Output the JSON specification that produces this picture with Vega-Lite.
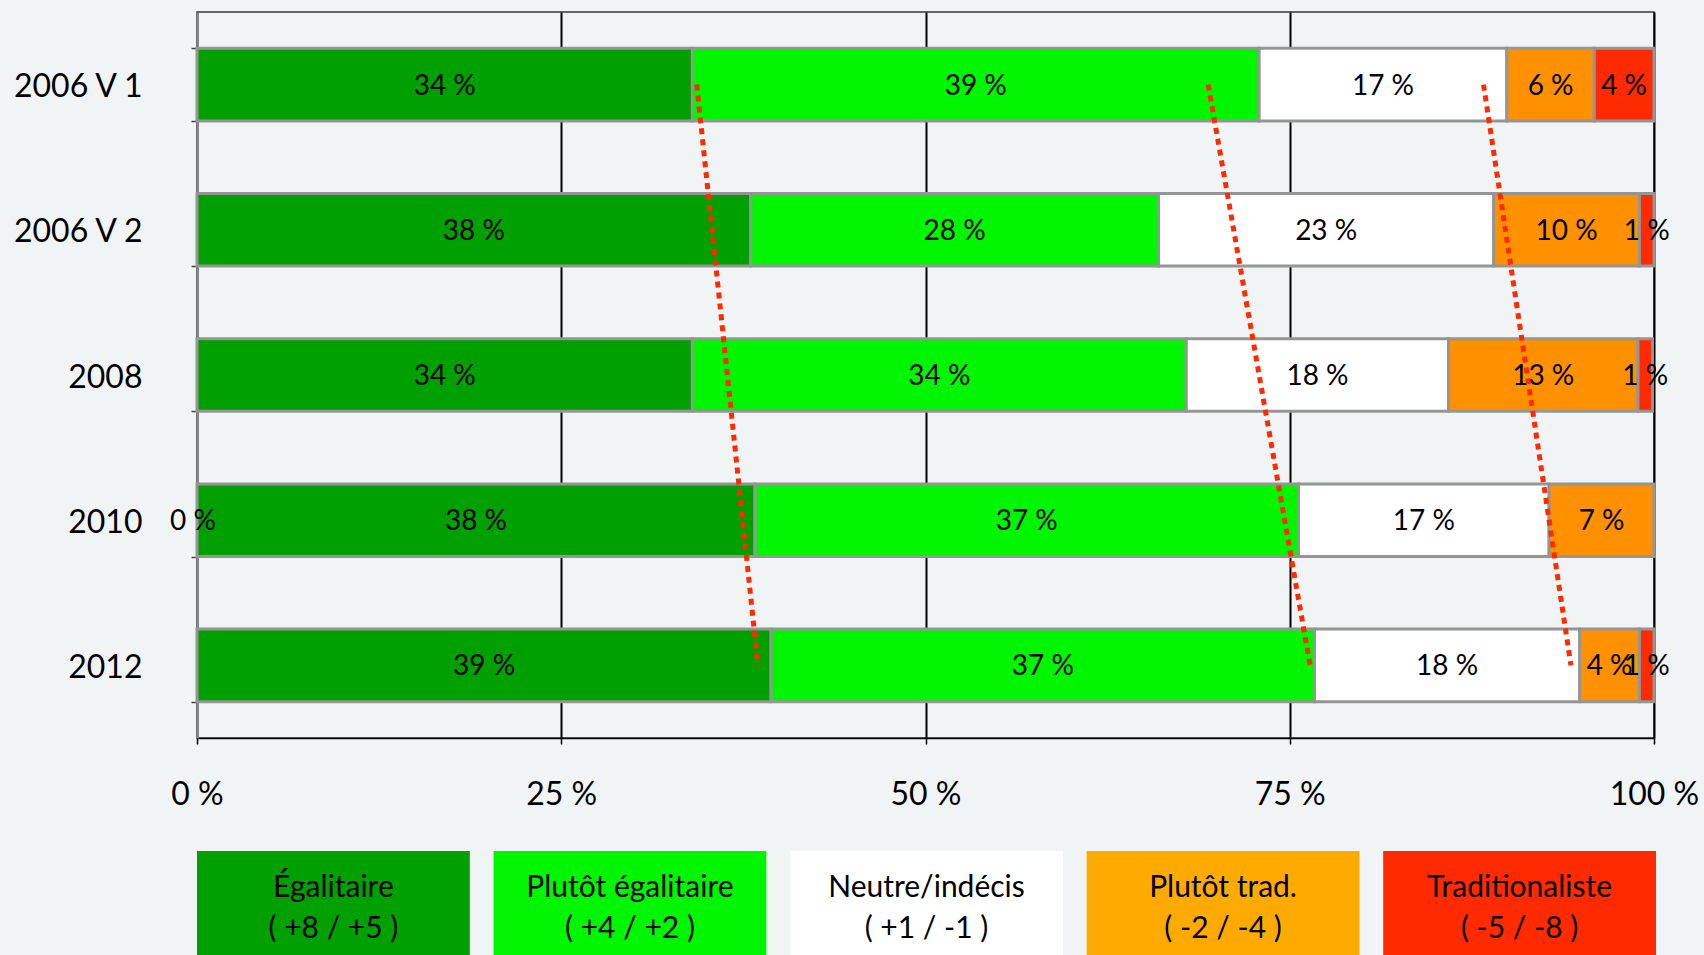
{
  "$schema": "https://vega.github.io/schema/vega-lite/v6.json",
  "background": "#F1F4F5",
  "padding": {"top": -5, "left": 10, "right": 5, "bottom": 0},
  "bounds": "flush",
  "spacing": 113,
  "config": {"font": "Lato", "view": {"stroke": null}},
  "resolve": {"scale": {"color": "independent", "x": "independent", "y": "independent"}},
  "datasets": {
    "parts": [
      {"annee": "2006 V 1", "cat": "Égalitaire", "k": 1, "value": 34.0},
      {"annee": "2006 V 1", "cat": "Plutôt égalitaire", "k": 2, "value": 38.9},
      {"annee": "2006 V 1", "cat": "Neutre/indécis", "k": 3, "value": 17.0},
      {"annee": "2006 V 1", "cat": "Plutôt trad.", "k": 4, "value": 6.0},
      {"annee": "2006 V 1", "cat": "Traditionaliste", "k": 5, "value": 4.1},
      {"annee": "2006 V 2", "cat": "Égalitaire", "k": 1, "value": 38.0},
      {"annee": "2006 V 2", "cat": "Plutôt égalitaire", "k": 2, "value": 28.0},
      {"annee": "2006 V 2", "cat": "Neutre/indécis", "k": 3, "value": 23.0},
      {"annee": "2006 V 2", "cat": "Plutôt trad.", "k": 4, "value": 10.0},
      {"annee": "2006 V 2", "cat": "Traditionaliste", "k": 5, "value": 1.0},
      {"annee": "2008", "cat": "Égalitaire", "k": 1, "value": 34.0},
      {"annee": "2008", "cat": "Plutôt égalitaire", "k": 2, "value": 33.9},
      {"annee": "2008", "cat": "Neutre/indécis", "k": 3, "value": 18.0},
      {"annee": "2008", "cat": "Plutôt trad.", "k": 4, "value": 13.0},
      {"annee": "2008", "cat": "Traditionaliste", "k": 5, "value": 1.0},
      {"annee": "2010", "cat": "Égalitaire", "k": 1, "value": 38.3},
      {"annee": "2010", "cat": "Plutôt égalitaire", "k": 2, "value": 37.3},
      {"annee": "2010", "cat": "Neutre/indécis", "k": 3, "value": 17.2},
      {"annee": "2010", "cat": "Plutôt trad.", "k": 4, "value": 7.2},
      {"annee": "2012", "cat": "Égalitaire", "k": 1, "value": 39.4},
      {"annee": "2012", "cat": "Plutôt égalitaire", "k": 2, "value": 37.3},
      {"annee": "2012", "cat": "Neutre/indécis", "k": 3, "value": 18.2},
      {"annee": "2012", "cat": "Plutôt trad.", "k": 4, "value": 4.1},
      {"annee": "2012", "cat": "Traditionaliste", "k": 5, "value": 1.0}
    ],
    "zero": [
      {"annee": "2010", "pos": 0, "label": "0 %"}
    ],
    "tendances": [
      {"ligne": 1, "annee": "2006 V 1", "pos": 34.3},
      {"ligne": 1, "annee": "2012", "pos": 38.5},
      {"ligne": 2, "annee": "2006 V 1", "pos": 69.4},
      {"ligne": 2, "annee": "2012", "pos": 76.4},
      {"ligne": 3, "annee": "2006 V 1", "pos": 88.3},
      {"ligne": 3, "annee": "2012", "pos": 94.3}
    ],
    "legende": [
      {"cat": "Égalitaire", "k": 1, "texte": "Égalitaire\n( +8 / +5 )"},
      {"cat": "Plutôt égalitaire", "k": 2, "texte": "Plutôt égalitaire\n( +4 /  +2 )"},
      {"cat": "Neutre/indécis", "k": 3, "texte": "Neutre/indécis\n( +1 / -1 )"},
      {"cat": "Plutôt trad.", "k": 4, "texte": "Plutôt trad.\n( -2 / -4 )"},
      {"cat": "Traditionaliste", "k": 5, "texte": "Traditionaliste\n( -5 / -8 )"}
    ]
  },
  "vconcat": [
    {
      "width": 1457,
      "height": 726,
      "view": {"stroke": "#333333", "strokeWidth": 1.5},
      "encoding": {
        "y": {
          "field": "annee", "type": "nominal",
          "sort": ["2006 V 1", "2006 V 2", "2008", "2010", "2012"],
          "scale": {"paddingInner": 0.5, "paddingOuter": 0.25},
          "axis": {
            "title": null, "labelFontSize": 32, "labelColor": "#000000",
            "labelPadding": 49, "labelOffset": 2, "tickSize": 6, "tickColor": "#444444", "tickWidth": 1.5,
            "tickBand": "extent", "domainColor": "#888888", "domainWidth": 2.5, "grid": false
          }
        }
      },
      "layer": [
        {
          "data": {"name": "parts"},
          "transform": [
            {"stack": "value", "groupby": ["annee"], "sort": [{"field": "k", "order": "ascending"}], "as": ["v0", "v1"]}
          ],
          "mark": {"type": "bar", "stroke": "#959595", "strokeWidth": 3},
          "encoding": {
            "x": {
              "field": "v0", "type": "quantitative",
              "scale": {"domain": [0, 100], "nice": false},
              "axis": {
                "title": null, "values": [0, 25, 50, 75, 100],
                "labelExpr": "datum.value + ' %'", "labelFontSize": 32, "labelColor": "#000000",
                "labelFlush": false,
                "labelPadding": 35, "tickSize": 6, "tickColor": "#000000", "tickWidth": 1.5,
                "domainColor": "#000000", "domainWidth": 1.5,
                "grid": true, "gridColor": "#000000", "gridWidth": 2, "gridOpacity": 1
              }
            },
            "x2": {"field": "v1"},
            "color": {
              "field": "cat", "type": "nominal",
              "scale": {
                "domain": ["Égalitaire", "Plutôt égalitaire", "Neutre/indécis", "Plutôt trad.", "Traditionaliste"],
                "range": ["#00A000", "#00F500", "#FFFFFF", "#FF9000", "#FF2A00"]
              },
              "legend": null
            }
          }
        },
        {
          "data": {"name": "parts"},
          "transform": [
            {"stack": "value", "groupby": ["annee"], "sort": [{"field": "k", "order": "ascending"}], "as": ["v0", "v1"]},
            {"calculate": "(datum.v0 + datum.v1) / 2", "as": "mid"},
            {"calculate": "format(datum.value, '.0f') + ' %'", "as": "label"}
          ],
          "mark": {"type": "text", "fontSize": 28, "color": "#000000", "dy": 2},
          "encoding": {
            "x": {"field": "mid", "type": "quantitative"},
            "text": {"field": "label", "type": "nominal"}
          }
        },
        {
          "data": {"name": "zero"},
          "mark": {"type": "text", "fontSize": 28, "color": "#000000", "dx": -4, "dy": 2},
          "encoding": {
            "x": {"field": "pos", "type": "quantitative"},
            "text": {"field": "label", "type": "nominal"}
          }
        },
        {
          "data": {"name": "tendances"},
          "mark": {"type": "line", "color": "#FF2A00", "strokeWidth": 5, "strokeDash": [6, 5]},
          "encoding": {
            "x": {"field": "pos", "type": "quantitative"},
            "detail": {"field": "ligne", "type": "nominal"}
          }
        }
      ]
    },
    {
      "width": 1459,
      "height": 110,
      "data": {"name": "legende"},
      "encoding": {
        "x": {
          "field": "cat", "type": "nominal",
          "sort": ["Égalitaire", "Plutôt égalitaire", "Neutre/indécis", "Plutôt trad.", "Traditionaliste"],
          "scale": {"paddingInner": 0.08, "paddingOuter": 0},
          "axis": null
        }
      },
      "layer": [
        {
          "mark": {"type": "bar"},
          "encoding": {
            "color": {
              "field": "cat", "type": "nominal",
              "scale": {
                "domain": ["Égalitaire", "Plutôt égalitaire", "Neutre/indécis", "Plutôt trad.", "Traditionaliste"],
                "range": ["#00A000", "#00F500", "#FFFFFF", "#FFAA00", "#FF2A00"]
              },
              "legend": null
            }
          }
        },
        {
          "mark": {"type": "text", "fontSize": 30, "lineBreak": "\n", "lineHeight": 41, "color": "#000000", "baseline": "middle", "dy": -18},
          "encoding": {
            "text": {"field": "texte", "type": "nominal"}
          }
        }
      ]
    }
  ]
}
